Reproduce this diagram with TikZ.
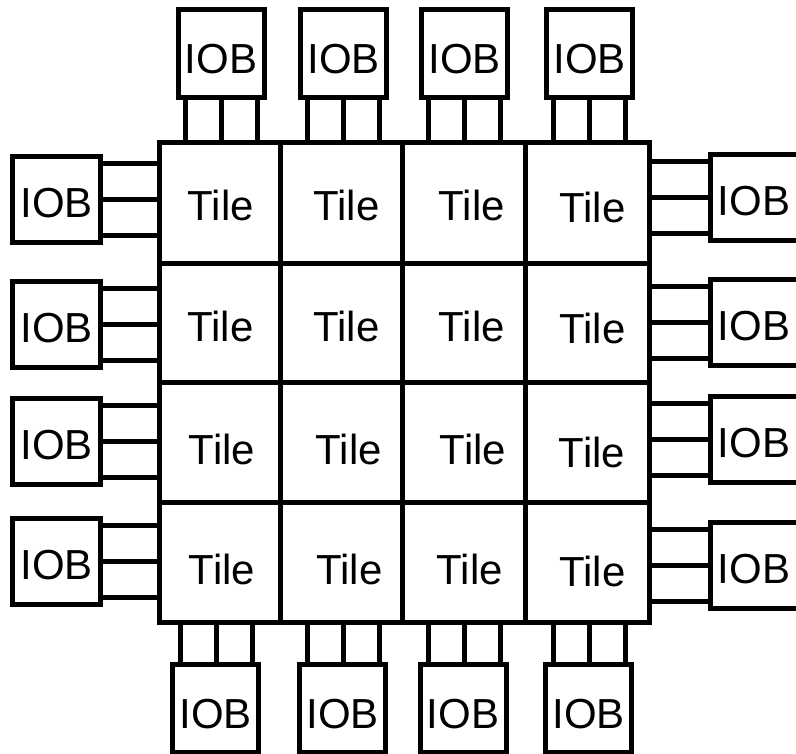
\documentclass[tikz,border=0pt]{standalone}
\usepackage{fontspec}
\setmainfont{Liberation Sans}
\begin{document}
\begin{tikzpicture}[x=1pt,y=-1pt,line width=5pt,
  bigfont/.style={font=\fontsize{42pt}{42pt}\selectfont},
  tilebox/.style={draw,rectangle,inner sep=0pt},
  tiletxt/.style={bigfont,inner sep=0pt,text height=30pt,text depth=0pt},
  iobtb/.style={draw,rectangle,inner sep=0pt,fill=white,bigfont,minimum width=86pt,minimum height=88pt,text height=40pt,text depth=0pt},
  ioblr/.style={draw,rectangle,inner sep=0pt,fill=white,bigfont,minimum width=88pt,minimum height=86pt,text height=36pt,text depth=0pt},
  stub/.style={line width=5pt}]
\useasboundingbox (0,0) rectangle (796,754);
\clip (0,0) rectangle (796,754);
\fill[white] (0,0) rectangle (796,754);
% tiles
\node[tilebox,minimum width=120.5pt,minimum height=121.5pt] (t11) at (219.75,203.25) {};
\node[tilebox,minimum width=122.5pt,minimum height=121.5pt] (t12) at (341.25,203.25) {};
\node[tilebox,minimum width=123pt,minimum height=121.5pt] (t13) at (464,203.25) {};
\node[tilebox,minimum width=123.5pt,minimum height=121.5pt] (t14) at (587.25,203.25) {};
\node[tilebox,minimum width=120.5pt,minimum height=118.5pt] (t21) at (219.75,323.25) {};
\node[tilebox,minimum width=122.5pt,minimum height=118.5pt] (t22) at (341.25,323.25) {};
\node[tilebox,minimum width=123pt,minimum height=118.5pt] (t23) at (464,323.25) {};
\node[tilebox,minimum width=123.5pt,minimum height=118.5pt] (t24) at (587.25,323.25) {};
\node[tilebox,minimum width=120.5pt,minimum height=120pt] (t31) at (219.75,442.5) {};
\node[tilebox,minimum width=122.5pt,minimum height=120pt] (t32) at (341.25,442.5) {};
\node[tilebox,minimum width=123pt,minimum height=120pt] (t33) at (464,442.5) {};
\node[tilebox,minimum width=123.5pt,minimum height=120pt] (t34) at (587.25,442.5) {};
\node[tilebox,minimum width=120.5pt,minimum height=120pt] (t41) at (219.75,562.5) {};
\node[tilebox,minimum width=122.5pt,minimum height=120pt] (t42) at (341.25,562.5) {};
\node[tilebox,minimum width=123pt,minimum height=120pt] (t43) at (464,562.5) {};
\node[tilebox,minimum width=123.5pt,minimum height=120pt] (t44) at (587.25,562.5) {};
% tile labels
\node[tiletxt] (l11) at (220.8,205.8) {Tile};
\node[tiletxt] (l12) at (346.5,205.8) {Tile};
\node[tiletxt] (l13) at (471.8,205.8) {Tile};
\node[tiletxt] (l14) at (592.5,208) {Tile};
\node[tiletxt] (l21) at (220.5,326.7) {Tile};
\node[tiletxt] (l22) at (346.5,326.7) {Tile};
\node[tiletxt] (l23) at (471.8,326.7) {Tile};
\node[tiletxt] (l24) at (592.5,329) {Tile};
\node[tiletxt] (l31) at (222,449) {Tile};
\node[tiletxt] (l32) at (348.7,449) {Tile};
\node[tiletxt] (l33) at (473,449) {Tile};
\node[tiletxt] (l34) at (592,452) {Tile};
\node[tiletxt] (l41) at (222,569) {Tile};
\node[tiletxt] (l42) at (349.5,569) {Tile};
\node[tiletxt] (l43) at (469.7,569) {Tile};
\node[tiletxt] (l44) at (592.5,571) {Tile};
% IOBs
\node[iobtb] (T1) at (221,53.5) {IOB};
\node[iobtb] (T2) at (343.5,53.5) {IOB};
\node[iobtb] (T3) at (464.5,53.5) {IOB};
\node[iobtb] (T4) at (589.5,53.5) {IOB};
\node[iobtb] (B1) at (215.5,708) {IOB};
\node[iobtb] (B2) at (342.5,708) {IOB};
\node[iobtb] (B3) at (463,708) {IOB};
\node[iobtb] (B4) at (588.5,708) {IOB};
\node[ioblr] (L1) at (56.5,200) {IOB};
\node[ioblr] (L2) at (56.5,324.5) {IOB};
\node[ioblr] (L3) at (56.5,441) {IOB};
\node[ioblr] (L4) at (56.5,561) {IOB};
\node[ioblr] (R1) at (754,198) {IOB};
\node[ioblr] (R2) at (754,323) {IOB};
\node[ioblr] (R3) at (754,439.5) {IOB};
\node[ioblr] (R4) at (754,565) {IOB};
% stubs
\foreach \n/\t in {T1/t11,T2/t12,T3/t13,T4/t14}
  \foreach \d in {-36,0,36}
    \draw[stub] ([xshift=\d pt]\n.south) -- ([xshift=\d pt]\n.south |- \t.north);
\foreach \n/\t in {B1/t41,B2/t42,B3/t43,B4/t44}
  \foreach \d in {-35,1,37}
    \draw[stub] ([xshift=\d pt]\n.north) -- ([xshift=\d pt]\n.north |- \t.south);
\foreach \n/\t in {L1/t11,L2/t21,L3/t31,L4/t41}
  \foreach \d in {-36,0,36}
    \draw[stub] ([yshift=\d pt]\n.east) -- ([yshift=\d pt]\n.east -| \t.west);
\foreach \n/\t in {R1/t14,R2/t24,R3/t34,R4/t44}
  \foreach \d in {-36,0,36}
    \draw[stub] ([yshift=\d pt]\n.west) -- ([yshift=\d pt]\n.west -| \t.east);
\end{tikzpicture}
\end{document}
